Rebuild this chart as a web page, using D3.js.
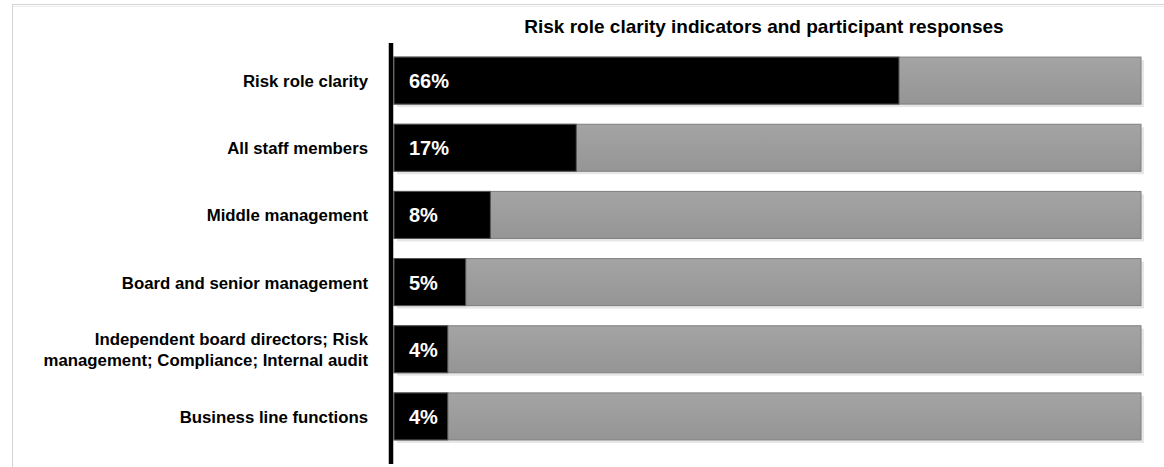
<!DOCTYPE html>
<html>
<head>
<meta charset="utf-8">
<script src="https://cdn.jsdelivr.net/npm/d3@7/dist/d3.min.js"></script>
<style>
html,body{margin:0;padding:0;background:#fff;}
svg{display:block;font-family:"Liberation Sans",Arial,sans-serif;}
</style>
</head>
<body>
<svg id="chart" width="1164" height="467"></svg>
<script>
const title = "Risk role clarity indicators and participant responses";
const categories = [
  "Risk role clarity",
  "All staff members",
  "Middle management",
  "Board and senior management",
  "Independent board directors; Risk management; Compliance; Internal audit",
  "Business line functions"
];
const categoryLines = [
  ["Risk role clarity"],
  ["All staff members"],
  ["Middle management"],
  ["Board and senior management"],
  ["Independent board directors; Risk", "management; Compliance; Internal audit"],
  ["Business line functions"]
];
const labelValues = [66, 17, 8, 5, 4, 4];
const barLengths = [67.6, 24.4, 12.9, 9.6, 7.2, 7.2];
const totalValue = 100;

const svg = d3.select("#chart");
const defs = svg.append("defs");
const grad = defs.append("linearGradient").attr("id","gbar").attr("x1",0).attr("y1",0).attr("x2",0).attr("y2",1);
grad.append("stop").attr("offset","0%").attr("stop-color","#a4a4a4");
grad.append("stop").attr("offset","100%").attr("stop-color","#959595");

// frame
svg.append("line").attr("x1",12).attr("x2",1164).attr("y1",4.5).attr("y2",4.5).attr("stroke","#d4d4d4");
svg.append("line").attr("x1",12).attr("x2",1164).attr("y1",6.5).attr("y2",6.5).attr("stroke","#ececec");
svg.append("line").attr("x1",12.5).attr("x2",12.5).attr("y1",4).attr("y2",467).attr("stroke","#d4d4d4");

const x = d3.scaleLinear().domain([0, totalValue]).range([394, 1141]);
const y = d3.scaleBand().domain(categories).range([47, 450]).paddingInner(0.3).paddingOuter(0.15);

svg.append("text").attr("x", 764).attr("y", 33).attr("text-anchor","middle")
  .attr("font-weight","bold").attr("font-size", 19).attr("fill","#000").text(title);

const g = svg.append("g");
const rows = g.selectAll("g.row").data(categories).join("g").attr("class","row");

// shadows
rows.append("rect").attr("x", x(0)+3).attr("y", d => y(d)+3)
  .attr("width", x(totalValue)-x(0)).attr("height", y.bandwidth()).attr("fill","#e6e6e6");
// gray full bars
rows.append("rect").attr("x", x(0)).attr("y", d => y(d))
  .attr("width", x(totalValue)-x(0)).attr("height", y.bandwidth())
  .attr("fill","url(#gbar)").attr("stroke","#7f7f7f").attr("stroke-width",1);
// black bars
rows.append("rect").attr("x", x(0)).attr("y", d => y(d))
  .attr("width", (d,i) => x(barLengths[i])-x(0)).attr("height", y.bandwidth())
  .attr("fill","#000").attr("stroke","#555").attr("stroke-width",1);
// value labels
rows.append("text").attr("x", x(0)+15).attr("y", d => y(d)+y.bandwidth()/2+7.5)
  .attr("fill","#fff").attr("font-weight","bold").attr("font-size",20)
  .text((d,i) => labelValues[i] + "%");

// category labels
rows.each(function(d,i){
  const lines = categoryLines[i];
  const cy = y(d) + y.bandwidth()/2;
  const t = d3.select(this).append("text").attr("text-anchor","end")
    .attr("font-weight","bold").attr("font-size",16.8).attr("fill","#000");
  lines.forEach((ln,j) => {
    t.append("tspan").attr("x", 368)
     .attr("y", cy + 6.5 + (j - (lines.length-1)/2) * 21).text(ln);
  });
});

// axis line
svg.append("line").attr("x1",391).attr("x2",391).attr("y1",43).attr("y2",464)
  .attr("stroke","#000").attr("stroke-width",4.5);
</script>
</body>
</html>
